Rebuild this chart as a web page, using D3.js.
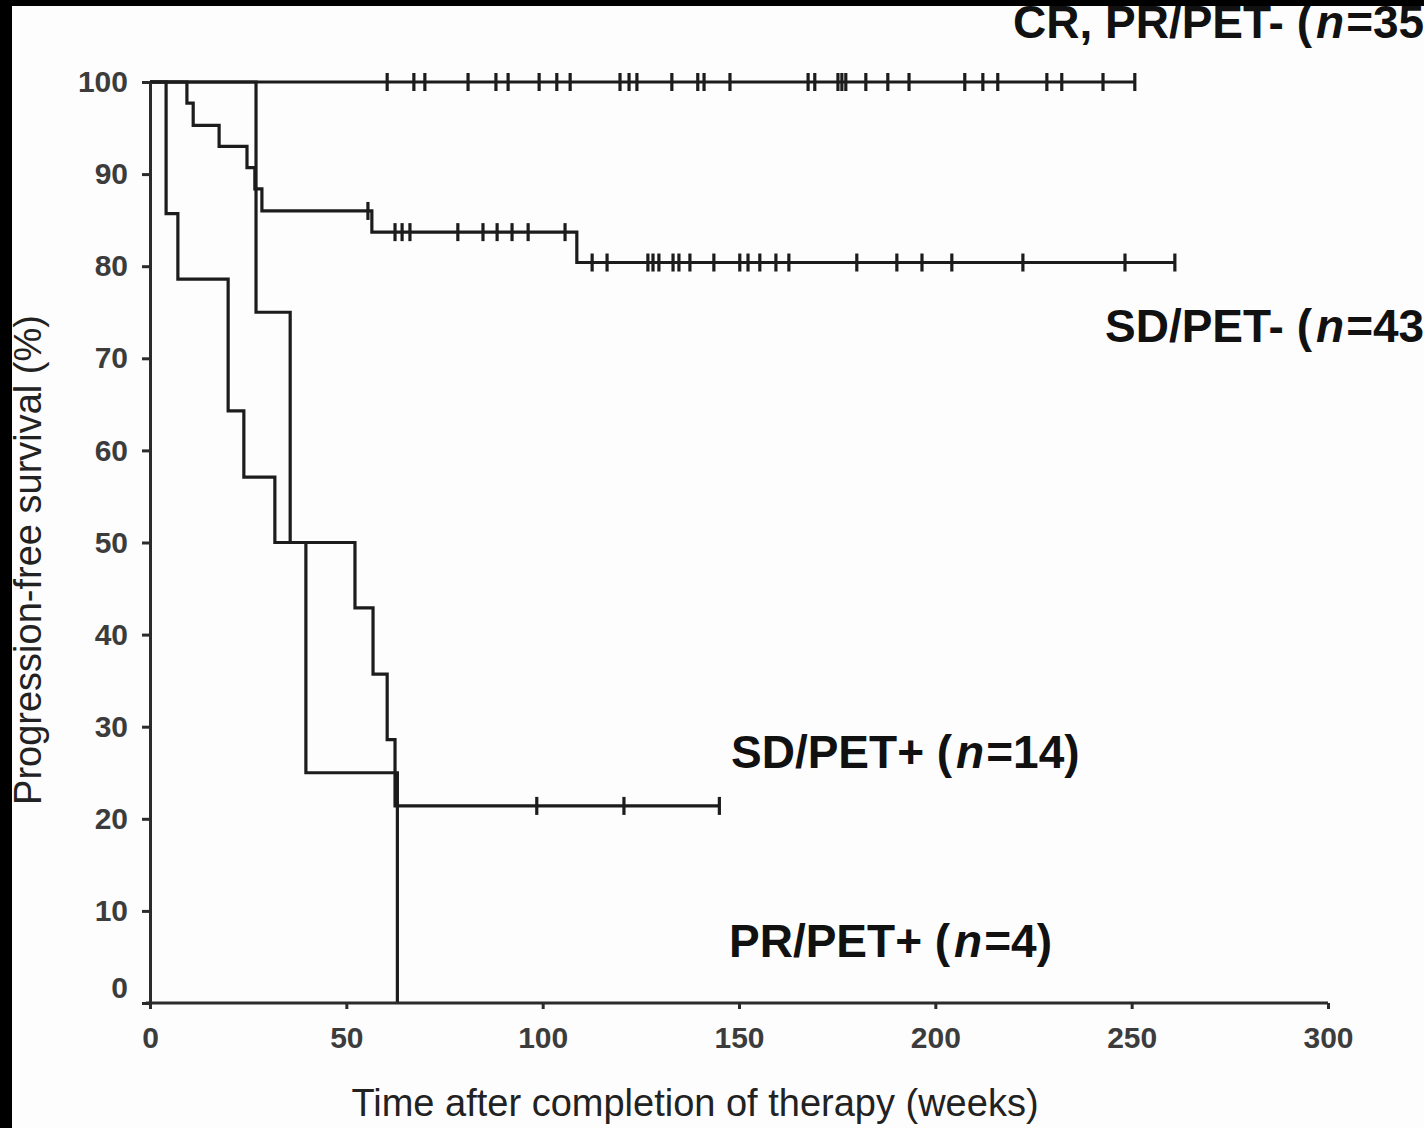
<!DOCTYPE html>
<html>
<head>
<meta charset="utf-8">
<script src="https://cdn.jsdelivr.net/npm/d3@7"></script>
<style>
  html, body { margin: 0; padding: 0; background: #000; }
  svg { display: block; font-family: 'Liberation Sans', Arial, sans-serif; }
  .axis path, .axis line { stroke: #2b2b2b; stroke-width: 3; }
  .axis text { font-size: 30px; font-weight: bold; fill: #3c3c3c; }
  .curve { fill: none; stroke: #1c1c1c; stroke-width: 3.2; }
  .censor { stroke: #1c1c1c; stroke-width: 3.2; }
  .label { font-size: 46px; font-weight: bold; fill: #111; }
  .title { font-size: 38px; fill: #222; }
</style>
</head>
<body>
<div id="chart"></div>
<script>
// axis ticks
const xTicks = [0, 50, 100, 150, 200, 250, 300];
const yTicks = [0, 10, 20, 30, 40, 50, 60, 70, 80, 90, 100];

// CR, PR/PET- (n=35): no events, only censored
const crEventTimes = [];
const crLevels = [];
const crEnd = 250.8;
const crCensors = [60.4, 67.2, 70.0, 81.0, 88.1, 91.2, 99.1, 103.6, 107.0, 119.7, 122.0, 124.0,
  132.9, 139.5, 141.1, 147.7, 167.6, 169.3, 175.2, 176.2, 177.2, 182.3, 187.9, 193.3,
  207.5, 212.1, 215.9, 228.4, 232.2, 242.7, 250.8];

// SD/PET- (n=43)
const sdNegEventTimes = [9.4, 11.0, 17.6, 24.7, 26.7, 28.5, 56.5, 108.7];
const sdNegLevels = [97.7, 95.3, 93.0, 90.7, 88.4, 86.0, 83.7, 80.4];
const sdNegEnd = 261.0;
const sdNegCensors = [55.5, 62.4, 64.2, 66.2, 78.4, 84.8, 88.4, 92.2, 96.3, 105.7,
  112.6, 116.4, 126.8, 128.1, 129.6, 133.2, 134.7, 137.5, 143.6, 150.2, 152.3, 155.3,
  159.4, 162.7, 180.0, 190.2, 196.6, 204.2, 222.3, 248.3, 261.0];

// SD/PET+ (n=14)
const sdPosEventTimes = [4.1, 7.1, 19.9, 23.9, 31.8, 52.2, 56.8, 60.4, 62.4];
const sdPosLevels = [85.7, 78.6, 64.3, 57.1, 50.0, 42.9, 35.7, 28.6, 21.4];
const sdPosEnd = 145.0;
const sdPosCensors = [98.5, 120.7, 145.0];

// PR/PET+ (n=4)
const prPosEventTimes = [27.0, 35.7, 39.7, 63.0];
const prPosLevels = [75, 50, 25, 0];
const prPosEnd = 63.0;
const prPosCensors = [];

const groups = [
  { times: crEventTimes, levels: crLevels, end: crEnd, censors: crCensors },
  { times: sdNegEventTimes, levels: sdNegLevels, end: sdNegEnd, censors: sdNegCensors },
  { times: sdPosEventTimes, levels: sdPosLevels, end: sdPosEnd, censors: sdPosCensors },
  { times: prPosEventTimes, levels: prPosLevels, end: prPosEnd, censors: prPosCensors },
];

const labels = [
  { text: 'CR, PR/PET- (', n: '35)', x: 1013, y: 38 },
  { text: 'SD/PET- (', n: '43)', x: 1105, y: 342 },
  { text: 'SD/PET+ (', n: '14)', x: 731, y: 768 },
  { text: 'PR/PET+ (', n: '4)', x: 729, y: 957 },
];

const canvasWidth = 1424;
const canvasHeight = 1128;

const svg = d3.select('#chart')
  .append('svg')
  .attr('width', canvasWidth)
  .attr('height', canvasHeight)
  .attr('viewBox', `0 0 ${canvasWidth} ${canvasHeight}`);

// white panel inside the black frame
svg.append('rect')
  .attr('width', canvasWidth).attr('height', canvasHeight)
  .attr('fill', '#000');
svg.append('rect')
  .attr('x', 12).attr('y', 6)
  .attr('width', canvasWidth - 12).attr('height', canvasHeight - 6)
  .attr('fill', '#fdfdfd');

const scaleX = d3.scaleLinear().domain([0, 300]).range([150, 1328]);
const scaleY = d3.scaleLinear().domain([0, 100]).range([1003, 82]);

// survival level at time t (for censor marks)
function levelAt(g, t) {
  const i = d3.bisectRight(g.times, t);
  return i === 0 ? 100 : g.levels[i - 1];
}

const line = d3.line()
  .x(d => scaleX(d[0]))
  .y(d => scaleY(d[1]))
  .curve(d3.curveStepAfter);

const plot = svg.append('g');

groups.forEach(g => {
  const pts = [[0, 100]];
  g.times.forEach((t, i) => pts.push([t, g.levels[i]]));
  pts.push([g.end, g.levels.length ? g.levels[g.levels.length - 1] : 100]);

  plot.append('path')
    .attr('class', 'curve')
    .attr('d', line(pts));

  plot.selectAll(null)
    .data(g.censors)
    .enter()
    .append('line')
      .attr('class', 'censor')
      .attr('x1', d => scaleX(d))
      .attr('x2', d => scaleX(d))
      .attr('y1', d => scaleY(levelAt(g, d)) - 9)
      .attr('y2', d => scaleY(levelAt(g, d)) + 9);
});

// axes
svg.append('g')
  .attr('class', 'axis')
  .attr('transform', `translate(0, ${scaleY(0)})`)
  .call(d3.axisBottom(scaleX).tickValues(xTicks).tickSize(6).tickPadding(18).tickSizeOuter(0))
  .call(g => g.select('.domain').attr('d', `M${scaleX(0) - 4},0H${scaleX(300)}`));

const yAxis = svg.append('g')
  .attr('class', 'axis')
  .attr('transform', `translate(${scaleX(0)}, 0)`)
  .call(d3.axisLeft(scaleY).tickValues(yTicks).tickSize(8).tickPadding(14).tickSizeOuter(0));
// the zero label sits a little above the x axis
yAxis.selectAll('.tick')
  .filter(d => d === 0)
  .select('text')
  .attr('y', -15);

// axis titles
svg.append('text')
  .attr('class', 'title')
  .attr('transform', 'translate(41, 560) rotate(-90)')
  .attr('text-anchor', 'middle')
  .text('Progression-free survival (%)');

svg.append('text')
  .attr('class', 'title')
  .attr('x', 695)
  .attr('y', 1116)
  .attr('text-anchor', 'middle')
  .text('Time after completion of therapy (weeks)');

// group labels
labels.forEach(l => {
  const t = svg.append('text')
    .attr('class', 'label')
    .attr('x', l.x)
    .attr('y', l.y);
  t.append('tspan').text(l.text);
  t.append('tspan').attr('font-style', 'italic').attr('dx', 4).text('n');
  t.append('tspan').attr('dx', 2).text('=' + l.n);
});

// top black band covers the first label's cap
svg.append('rect')
  .attr('width', canvasWidth).attr('height', 6)
  .attr('fill', '#000');
</script>
</body>
</html>
